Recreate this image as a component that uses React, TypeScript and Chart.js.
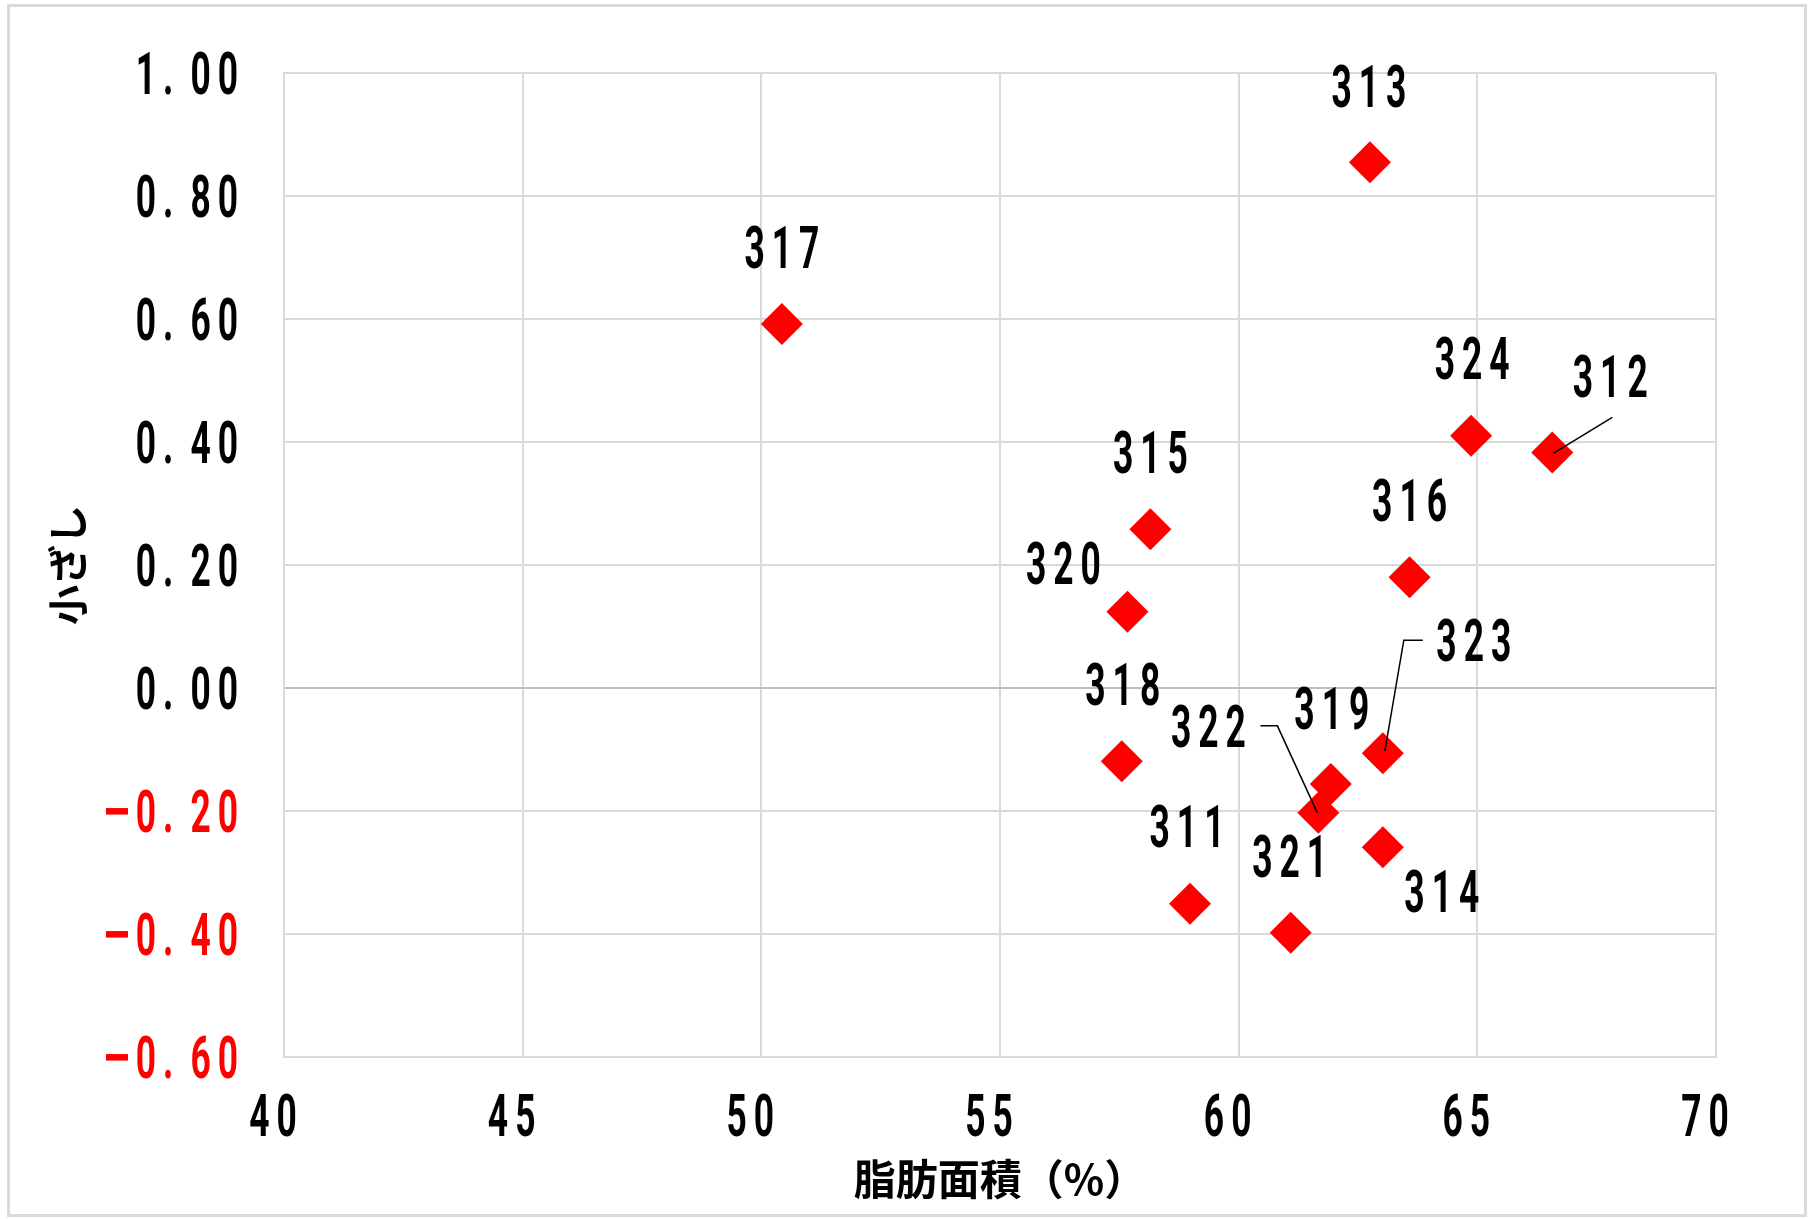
import React, { useEffect, useRef } from 'react';
import { Chart, registerables } from 'chart.js';

Chart.register(...registerables);

// ---- data ----
const sampleIds = ['311', '312', '313', '314', '315', '316', '317', '318', '319', '320', '321', '322', '323', '324'];
const fatAreaPct = [58.98, 66.57, 62.75, 63.02, 58.15, 63.58, 50.43, 57.55, 61.93, 57.67, 61.09, 61.67, 63.02, 64.87];
const koZashi = [-0.351, 0.383, 0.855, -0.259, 0.258, 0.18, 0.592, -0.119, -0.156, 0.124, -0.398, -0.203, -0.106, 0.41];
const xTickValues = [40, 45, 50, 55, 60, 65, 70];
const yTickValues = [1.0, 0.8, 0.6, 0.4, 0.2, 0.0, -0.2, -0.4, -0.6];
const xAxisTitle = '脂肪面積（%）';
const yAxisTitle = '小ざし';

// ---- label layout (pixel offsets from each marker) ----
const labelOffsets: Record<string, [number, number]> = {
  '311': [-3, -78],
  '312': [58, -76],
  '313': [-1, -76],
  '314': [59, 44],
  '315': [0, -77],
  '316': [0, -77],
  '317': [0, -77],
  '318': [1, -77],
  '319': [1, -76],
  '320': [-64, -49],
  '321': [-1, -77],
  '322': [-110, -87],
  '323': [91, -113],
  '324': [1, -78],
};
const leaderLines: Record<string, [number, number][]> = {
  '312': [[1, 1], [60, -35]],
  '322': [[-1, 0], [-41, -87], [-58, -87]],
  '323': [[2, -2], [21, -113], [40, -113]],
};

// ---- text style ----
const NUM_FONT = 'Roboto, "DejaVu Sans", sans-serif';
const NUM_SIZE = 59;
const NUM_WEIGHT = 700;
const SX = 0.6; // horizontal condensing
const TRACK = 7; // extra spacing between characters
const DOT_EXTRA = 10; // wide period cell
const MINUS_INK = 23; // drawn width of the minus sign
const MINUS_GAP = 0;
const DIGIT_H = 42;
const CJK_FONT = '"Noto Sans CJK JP", "Noto Sans CJK SC", sans-serif';
const MINUS = '\u2212';

function drawTracked(ctx: CanvasRenderingContext2D, text: string, x: number, yCenter: number, align: 'left' | 'center' | 'right', color: string) {
  ctx.save();
  ctx.font = `${NUM_WEIGHT} ${NUM_SIZE}px ${NUM_FONT}`;
  ctx.fillStyle = color;
  ctx.textAlign = 'left';
  ctx.textBaseline = 'alphabetic';
  const chars = Array.from(text);
  const info = chars.map((ch) => {
    const m = ctx.measureText(ch);
    if (ch === MINUS) {
      const ink = Math.max(1, m.actualBoundingBoxLeft + m.actualBoundingBoxRight);
      const s = MINUS_INK / ink;
      return { s, adv: MINUS_INK + MINUS_GAP, shift: m.actualBoundingBoxLeft * s };
    }
    return { s: SX, adv: m.width * SX + (ch === '.' ? DOT_EXTRA : 0), shift: 0 };
  });
  const total = info.reduce((a, b) => a + b.adv, 0) + TRACK * (chars.length - 1);
  let cx = align === 'left' ? x : align === 'center' ? x - total / 2 : x - total;
  const base = yCenter + DIGIT_H / 2;
  chars.forEach((ch, i) => {
    ctx.save();
    ctx.translate(cx + info[i].shift, base);
    ctx.scale(info[i].s, 1);
    ctx.fillText(ch, 0, 0);
    ctx.restore();
    cx += info[i].adv + TRACK;
  });
  ctx.restore();
}

const formatY = (v: number) => {
  const s = v.toFixed(2);
  return s.startsWith('-') ? MINUS + s.slice(1) : s;
};

const frame = {
  id: 'frame',
  beforeDraw(chart: any) {
    const ctx = chart.ctx;
    ctx.save();
    ctx.fillStyle = '#ffffff';
    ctx.fillRect(0, 0, chart.width, chart.height);
    ctx.strokeStyle = '#d9d9d9';
    ctx.lineWidth = 3;
    ctx.strokeRect(8.5, 5.5, 1797, 1210);
    ctx.restore();
  },
};

const tickText = {
  id: 'tickText',
  afterDraw(chart: any) {
    const ctx = chart.ctx as CanvasRenderingContext2D;
    const xs = chart.scales.x;
    const ys = chart.scales.y;
    const area = chart.chartArea;
    yTickValues.forEach((v) => {
      drawTracked(ctx, formatY(v), area.left - 46, ys.getPixelForValue(v), 'right', v < -1e-9 ? '#ff0000' : '#000000');
    });
    xTickValues.forEach((v) => {
      drawTracked(ctx, String(v), xs.getPixelForValue(v) - 11, area.bottom + 58, 'center', '#000000');
    });
  },
};

const pointLabels = {
  id: 'pointLabels',
  afterDatasetsDraw(chart: any) {
    const ctx = chart.ctx as CanvasRenderingContext2D;
    const meta = chart.getDatasetMeta(0);
    ctx.save();
    ctx.strokeStyle = '#000000';
    ctx.lineWidth = 1.5;
    meta.data.forEach((el: any, i: number) => {
      const { x, y } = el.getProps(['x', 'y'], true);
      const id = sampleIds[i];
      const lead = leaderLines[id];
      if (lead) {
        ctx.beginPath();
        lead.forEach(([dx, dy], k) => (k ? ctx.lineTo(x + dx, y + dy) : ctx.moveTo(x + dx, y + dy)));
        ctx.stroke();
      }
      const off = labelOffsets[id] || [0, -77];
      drawTracked(ctx, id, x + off[0], y + off[1], 'center', '#000000');
    });
    ctx.restore();
  },
};

export default function App() {
  const ref = useRef<HTMLCanvasElement>(null);

  useEffect(() => {
    const canvas = ref.current;
    if (!canvas) return;
    const chart = new Chart(canvas, {
      type: 'scatter',
      data: {
        datasets: [
          {
            label: yAxisTitle,
            data: fatAreaPct.map((x, i) => ({ x, y: koZashi[i] })),
            pointStyle: 'rectRot',
            pointRadius: 21,
            pointHoverRadius: 21,
            backgroundColor: '#ff0000',
            borderColor: '#ff0000',
            borderWidth: 0,
          },
        ],
      },
      options: {
        animation: false,
        responsive: false,
        devicePixelRatio: 1,
        events: [],
        layout: { padding: { left: 10, right: 97, top: 73, bottom: 5 } },
        plugins: {
          legend: { display: false },
          tooltip: { enabled: false },
          title: { display: false },
        },
        scales: {
          x: {
            type: 'linear',
            min: 40,
            max: 70,
            afterBuildTicks: (scale: any) => {
              scale.ticks = xTickValues.map((v) => ({ value: v }));
            },
            afterFit: (scale: any) => {
              scale.height = 1219 - 5 - 1057;
            },
            grid: { color: '#d9d9d9', lineWidth: 2, drawTicks: false },
            border: { color: '#d9d9d9', width: 2 },
            ticks: { display: false },
            title: {
              display: true,
              text: xAxisTitle,
              color: '#000000',
              font: { family: CJK_FONT, size: 42, weight: 'bold' },
              padding: { top: 0, bottom: 10 },
            },
          },
          y: {
            type: 'linear',
            min: -0.6,
            max: 1.0,
            afterBuildTicks: (scale: any) => {
              scale.ticks = yTickValues.map((v) => ({ value: v }));
            },
            afterFit: (scale: any) => {
              scale.width = 274;
            },
            grid: {
              color: (c: any) => (c.tick && Math.abs(c.tick.value) < 1e-9 ? '#bfbfbf' : '#d9d9d9'),
              lineWidth: 2,
              drawTicks: false,
            },
            border: { color: '#d9d9d9', width: 2 },
            ticks: { display: false },
            title: {
              display: true,
              text: yAxisTitle,
              color: '#000000',
              font: { family: CJK_FONT, size: 40, weight: 'bold' },
              padding: { top: 34, bottom: 0 },
            },
          },
        },
      },
      plugins: [frame, pointLabels, tickText],
    });
    return () => chart.destroy();
  }, []);

  return (
    <div style={{ position: 'fixed', left: 0, top: 0, width: 1813, height: 1219, background: '#ffffff' }}>
      <canvas ref={ref} width={1813} height={1219} style={{ display: 'block', width: 1813, height: 1219 }} />
    </div>
  );
}
